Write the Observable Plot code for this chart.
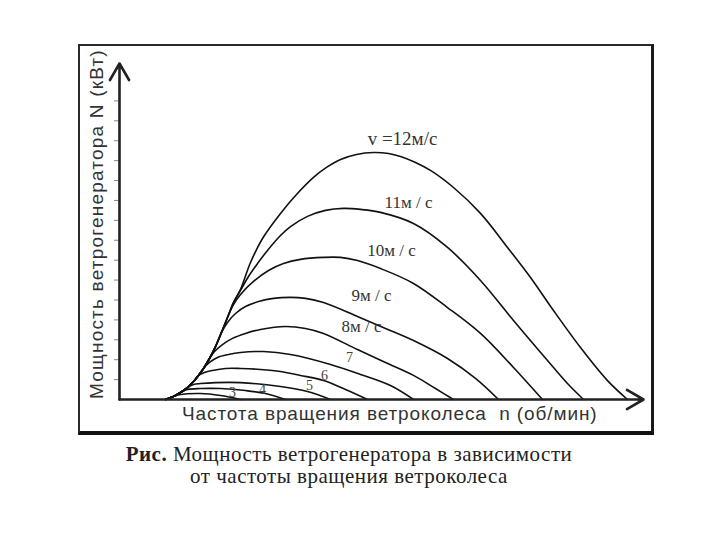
<!DOCTYPE html>
<html>
<head>
<meta charset="utf-8">
<script src="https://cdn.jsdelivr.net/npm/d3@7"></script>
<script src="https://cdn.jsdelivr.net/npm/@observablehq/plot@0.6"></script>
<style>
  html, body { margin: 0; padding: 0; background: #fff; }
  #wrap { position: relative; width: 720px; height: 540px; overflow: hidden; }
  #chart { position: absolute; left: 0; top: 0; }
  #frame { position: absolute; left: 78px; top: 44px; width: 571px; height: 385px;
           border-left: 2px solid #2a2a2a; border-top: 2px solid #2a2a2a;
           border-right: 3px solid #1a1a1a; border-bottom: 4px solid #111; pointer-events: none; }
  #ytitle { position: absolute; left: -83px; top: 213px; width: 360px; height: 22px; line-height: 22px;
            text-align: center; transform: rotate(-90deg); transform-origin: 50% 50%;
            font-family: "Liberation Sans", Arial, sans-serif; font-size: 19px; letter-spacing: 1.2px; color: #333; white-space: nowrap; }
  #xtitle { position: absolute; left: 182px; top: 403px; height: 22px; line-height: 22px;
            font-family: "Liberation Sans", Arial, sans-serif; font-size: 19px; letter-spacing: 0.9px; color: #333; white-space: pre; }
  #caption { position: absolute; left: 0; top: 443px; width: 698px; text-align: center;
             font-family: "Liberation Serif", "DejaVu Serif", serif; font-size: 21px; line-height: 22px;
             letter-spacing: 0.5px; color: #222; }
</style>
</head>
<body>
<div id="wrap">
  <div id="chart"></div>
  <div id="frame"></div>
  <div id="ytitle"></div>
  <div id="xtitle"></div>
  <div id="caption"><b>Рис.</b> Мощность ветрогенератора в зависимости<br>от частоты вращения ветроколеса</div>
</div>
<script>
// wind speeds (m/s) and curves: [n (rotation, arbitrary units), N (power, arbitrary units)]
const speeds = [12, 11, 10, 9, 8, 7, 6, 5, 4, 3];
const curve12 = [[4.6,0],[5.4,0.15],[6.1,0.35],[6.8,0.6],[7.4,0.9],[7.9,1.21],[8.4,1.56],[9.0,2.06],[9.6,2.66],[10.2,3.37],[10.8,4.12],[11.4,4.87],[12.1,5.53],[13.1,6.88],[14.3,8.09],[16.1,9.35],[17.7,10.3],[19.4,11.16],[20.7,11.66],[22.1,12.06],[23.7,12.31],[25.4,12.41],[26.9,12.36],[28.1,12.21],[29.6,11.91],[31.1,11.51],[33.4,10.65],[36.1,9.35],[38.8,7.64],[41.1,6.13],[43.4,4.47],[46.1,2.61],[48.8,0.95],[50.8,0]];
const curve11 = [[4.6,0],[5.4,0.15],[6.1,0.35],[6.8,0.6],[7.4,0.9],[7.9,1.21],[8.4,1.56],[9.0,2.06],[9.6,2.66],[10.2,3.37],[10.8,4.12],[11.4,4.87],[12.1,5.48],[12.9,6.18],[13.8,6.83],[14.8,7.49],[16.1,8.24],[17.1,8.69],[18.8,9.2],[20.6,9.5],[22.4,9.6],[24.1,9.55],[26.1,9.4],[29.4,8.84],[32.8,7.64],[36.1,5.98],[39.4,3.97],[42.8,1.96],[44.8,0.8],[46.4,0]];
const curve10 = [[4.6,0],[5.4,0.15],[6.1,0.35],[6.8,0.6],[7.4,0.9],[7.9,1.21],[8.4,1.56],[9.0,2.06],[9.6,2.66],[10.2,3.37],[10.8,4.12],[11.4,4.77],[12.1,5.28],[13.4,5.93],[14.9,6.48],[16.4,6.83],[18.1,7.04],[20.4,7.14],[22.1,7.14],[23.8,6.98],[26.1,6.58],[29.4,5.83],[32.8,4.62],[36.1,3.32],[39.4,1.61],[42.3,0]];
const curve9 = [[4.6,0],[5.4,0.15],[6.1,0.35],[6.8,0.6],[7.4,0.9],[7.9,1.21],[8.4,1.56],[9.0,2.06],[9.6,2.66],[10.2,3.37],[10.8,3.87],[11.6,4.32],[12.6,4.67],[13.9,4.92],[15.4,5.08],[17.1,5.13],[18.6,5.08],[20.4,4.87],[23.8,4.17],[26.6,3.57],[29.4,2.96],[32.8,2.06],[35.6,1.06],[37.9,0]];
const curve8 = [[4.6,0],[5.4,0.15],[6.1,0.35],[6.8,0.6],[7.4,0.9],[7.9,1.21],[8.4,1.56],[9.0,2.06],[9.6,2.46],[10.3,2.76],[11.3,3.07],[12.6,3.32],[14.1,3.52],[16.6,3.67],[18.6,3.57],[20.4,3.32],[23.8,2.51],[26.6,1.86],[29.4,1.21],[31.6,0.55],[33.4,0]];
const curve7 = [[4.6,0],[5.4,0.15],[6.1,0.35],[6.8,0.6],[7.4,0.9],[7.9,1.21],[8.4,1.56],[9.0,1.86],[9.8,2.11],[10.9,2.26],[12.1,2.36],[14.4,2.41],[17.1,2.26],[21.1,1.76],[24.1,1.26],[27.1,0.7],[29.4,0]];
const curve6 = [[4.6,0],[5.4,0.15],[6.1,0.35],[6.8,0.6],[7.4,0.9],[7.9,1.21],[8.5,1.36],[9.3,1.46],[10.6,1.56],[12.1,1.56],[14.1,1.51],[16.1,1.41],[18.1,1.21],[20.4,0.95],[22.6,0.5],[24.8,0]];
const curve5 = [[4.6,0],[5.4,0.15],[6.1,0.35],[6.8,0.6],[7.4,0.75],[8.1,0.8],[9.6,0.85],[12.1,0.85],[16.1,0.65],[18.8,0.4],[21.1,0]];
const curve4 = [[4.6,0],[5.4,0.15],[6.1,0.35],[6.8,0.5],[8.1,0.55],[10.1,0.55],[12.6,0.45],[14.6,0.3],[16.6,0]];
const curve3 = [[4.6,0],[5.4,0.15],[6.1,0.25],[8.1,0.3],[10.1,0.2],[12.1,0]];
const curves = [curve12, curve11, curve10, curve9, curve8, curve7, curve6, curve5, curve4, curve3];

const labelTexts = ["v =12м/с", "11м / с", "10м / с", "9м / с", "8м / с", "7", "6", "5", "4", "3"];
const labelN = [28.3, 28.9, 27.2, 25.2, 24.2, 23.0, 20.5, 19.0, 14.3, 11.3];
const labelP = [13.07, 9.9, 7.49, 5.23, 3.67, 2.11, 1.21, 0.70, 0.50, 0.33];

const yTicks = [1,2,3,4,5,6,7,8,9,10,11,12,13,14,15];
const xMax = 52.4, yMax = 16.88;
const xTitle = "Частота вращения ветроколеса  n (об/мин)";
const yTitle = "Мощность ветрогенератора N (кВт)";
document.getElementById("xtitle").textContent = xTitle;
document.getElementById("ytitle").textContent = yTitle;

const rows = [];
curves.forEach((c, i) => c.forEach(([n, N]) => rows.push({v: speeds[i], n, N})));
const labels = labelTexts.map((t, i) => ({t, n: labelN[i], N: labelP[i], k: i}));
const axesData = [{x1: 0, y1: 0, x2: 0, y2: yMax}, {x1: 0, y1: 0, x2: xMax, y2: 0}];

const chart = Plot.plot({
  width: 720, height: 440,
  marginLeft: 119, marginRight: 77, marginTop: 63, marginBottom: 41,
  style: {background: "transparent", fontFamily: "Liberation Sans, Arial, sans-serif"},
  x: {domain: [0, xMax], axis: null},
  y: {domain: [0, yMax]},
  marks: [
    Plot.axisY({ticks: yTicks, tickSize: 5, tickFormat: () => "", label: null, stroke: "#888"}),
    Plot.line(rows, {x: "n", y: "N", z: "v", curve: "catmull-rom", stroke: "#111", strokeWidth: 1.6}),
    Plot.arrow(axesData, {x1: "x1", y1: "y1", x2: "x2", y2: "y2", stroke: "#222", strokeWidth: 2.6, headLength: 11}),
    Plot.text(labels.filter(d => d.k === 0), {x: "n", y: "N", text: "t", fontFamily: "Liberation Serif, serif", fontSize: 19, fill: "#333"}),
    Plot.text(labels.filter(d => d.k > 0 && d.k < 5), {x: "n", y: "N", text: "t", fontFamily: "Liberation Serif, serif", fontSize: 17, fill: "#333"}),
    Plot.text(labels.filter(d => d.k >= 5), {x: "n", y: "N", text: "t", fontFamily: "Liberation Serif, serif", fontSize: 14, fill: "#444"})
  ]
});
document.getElementById("chart").appendChild(chart);
</script>
</body>
</html>
